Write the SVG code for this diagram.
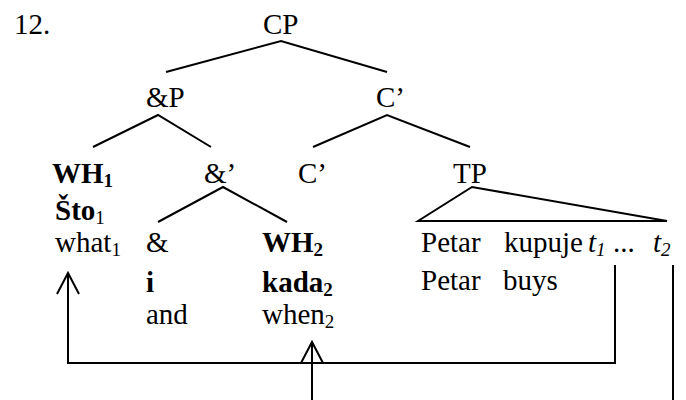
<svg xmlns="http://www.w3.org/2000/svg" width="686" height="400" viewBox="0 0 686 400">
  <style>
    .t { font-family: "Liberation Serif", "Times New Roman", serif; font-size: 29px; fill: #000; }
    .b { font-weight: bold; }
    .i { font-style: italic; }
    .sub { font-size: 19px; }
    .br { stroke: #000; stroke-width: 2; fill: none; }
    .mv { stroke: #000; stroke-width: 2; fill: none; }
  </style>
  <rect width="686" height="400" fill="#fff"/>

  <g class="t">
  <text x="14" y="34">12.</text>

  <!-- tree nodes -->
  <g id="CP"><text x="263" y="34">CP</text></g>
  <g id="andP"><text x="146" y="107">&amp;P</text></g>
  <g id="Cbar1"><text x="376" y="107">C’</text></g>
  <g id="WH1">
    <text x="52" y="183" class="b">WH<tspan class="sub" dy="4">1</tspan></text>
    <text x="55" y="220" class="b">Što<tspan class="sub" dy="4" font-weight="normal">1</tspan></text>
    <text x="55" y="252">what<tspan class="sub" dy="4">1</tspan></text>
  </g>
  <g id="andBar"><text x="204" y="183">&amp;’</text></g>
  <g id="Cbar2"><text x="298" y="183">C’</text></g>
  <g id="TP"><text x="453" y="183">TP</text></g>
  <g id="and">
    <text x="146" y="252">&amp;</text>
    <text x="146" y="292" class="b">i</text>
    <text x="146" y="324">and</text>
  </g>
  <g id="WH2">
    <text x="262" y="252" class="b">WH<tspan class="sub" dy="4">2</tspan></text>
    <text x="262" y="292" class="b">kada<tspan class="sub" dy="4">2</tspan></text>
    <text x="262" y="324">when<tspan class="sub" dy="4">2</tspan></text>
  </g>
  <g id="TPcontent">
    <text x="421" y="252">Petar</text>
    <text x="504" y="252">kupuje</text>
    <text x="588" y="252" class="i">t<tspan class="sub" dy="4">1</tspan></text>
    <text x="613" y="252">...</text>
    <text x="653" y="252" class="i">t<tspan class="sub" dy="4">2</tspan></text>
    <text x="421" y="290">Petar</text>
    <text x="503" y="290">buys</text>
  </g>
  </g>

  <!-- connectors -->
  <g id="connectors">
    <polyline class="br" points="166,72 281,41 387,72"/>
    <polyline class="br" points="93,147 158,115 211,147"/>
    <polyline class="br" points="313,147 387,115 470,147"/>
    <polyline class="br" points="158,222 223,187 287,222"/>
    <polygon class="br" points="418,221 472,187 667,221"/>

    <!-- movement of t1 to WH1 -->
    <polyline class="mv" points="615,265 615,363 68,363 68,273"/>
    <polyline class="mv" points="57,294 68,273 79,294"/>
    <!-- movement of t2 to WH2 -->
    <line class="mv" x1="673" y1="265" x2="673" y2="400"/>
    <polyline class="mv" points="312,400 312,342"/>
    <polyline class="mv" points="301,363 312,342 323,363"/>
  </g>
</svg>
